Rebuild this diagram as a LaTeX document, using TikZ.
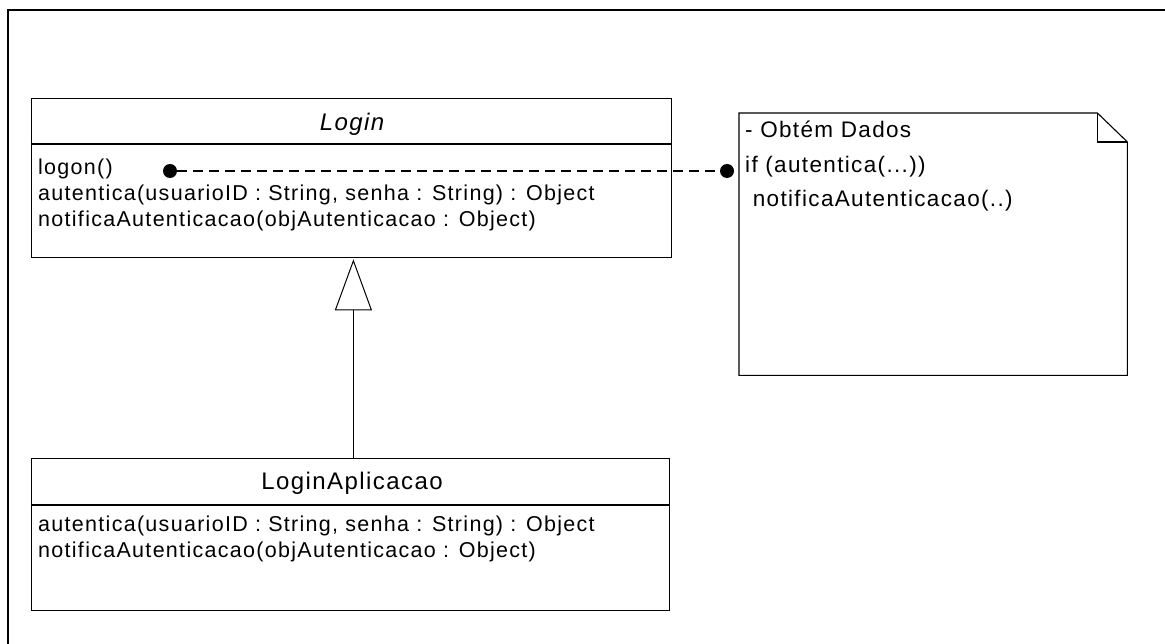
\documentclass[tikz,border=0pt]{standalone}
\usepackage{fontspec}
\setmainfont{Liberation Sans}[LetterSpace=6]
\usetikzlibrary{arrows.meta}
\newcommand{\methfont}{\fontsize{21.5}{26}\selectfont}
\newcommand{\titlefont}{\fontsize{24}{28}\selectfont}
\newcommand{\notefont}{\fontsize{22.5}{28}\selectfont}
\begin{document}
\begin{tikzpicture}[x=1pt,y=-1pt,
  classbox/.style={draw, line width=1.3pt, rectangle, inner sep=0pt, anchor=north west},
  meth/.style={anchor=base west, inner sep=0pt, font=\methfont},
  notetext/.style={anchor=base west, inner sep=0pt, font=\notefont},
  dot/.style={circle, fill=black, inner sep=0pt, minimum size=14pt},
  anchorline/.style={line width=2.8pt, dash pattern=on 10pt off 6pt},
  gen/.style={line width=1pt, -{Triangle[open, length=51pt, width=37pt, line width=1pt]}},
  notestyle/.style={draw, line width=1.1pt}
]
\useasboundingbox (0,0) rectangle (1165,644);
\draw[line width=2pt] (8,646) -- (8,10) -- (1167,10);

% Login class
\node[classbox, minimum width=640.5pt, minimum height=159pt] (login) at (30.5,98) {};
\draw[line width=1.3pt] ([yshift=-46pt]login.north west) -- ([yshift=-46pt]login.north east);
\node[font=\titlefont\itshape, inner sep=0pt, anchor=base] (logintitle) at (352,131) {Login};
\node[meth] (m1) at (38,175) {logon()};
\node[meth] (m2) at (38,201) {autentica(usuarioID : String, senha : String) : Object};
\node[meth] (m3) at (38,227) {notificaAutenticacao(objAutenticacao : Object)};

% LoginAplicacao class
\node[classbox, minimum width=638.5pt, minimum height=152pt] (sub) at (30.5,458) {};
\draw[line width=1.3pt] ([yshift=-47pt]sub.north west) -- ([yshift=-47pt]sub.north east);
\node[font=\titlefont, inner sep=0pt, anchor=base] (subtitle) at (352,489) {LoginAplicacao};
\node[meth] (s1) at (38,531) {autentica(usuarioID : String, senha : String) : Object};
\node[meth] (s2) at (38,557) {notificaAutenticacao(objAutenticacao : Object)};

% generalization
\draw[gen] ([xshift=3pt]sub.north) -- ([xshift=2pt,yshift=-1pt]login.south);

% note
\node[inner sep=0pt, anchor=north west, minimum width=388pt, minimum height=262pt] (note) at (739,113) {};
\draw[notestyle] (note.north west) -- ([xshift=-30pt]note.north east) -- ([yshift=-29pt]note.north east) -- (note.south east) -- (note.south west) -- cycle;
\draw[notestyle] ([xshift=-30pt]note.north east) -- ([xshift=-30pt,yshift=-29pt]note.north east) -- ([yshift=-29pt]note.north east);
\node[notetext] (n1) at (745,138) {- Obtém Dados};
\node[notetext] (n2) at (745,173) {if (autentica(...))};
\node[notetext] (n3) at (745,207) {\ notificaAutenticacao(..)};

% anchor line
\node[dot] (d1) at (170,171) {};
\node[dot] (d2) at (727,171) {};
\draw[anchorline] (d1) -- (d2);
\end{tikzpicture}
\end{document}
